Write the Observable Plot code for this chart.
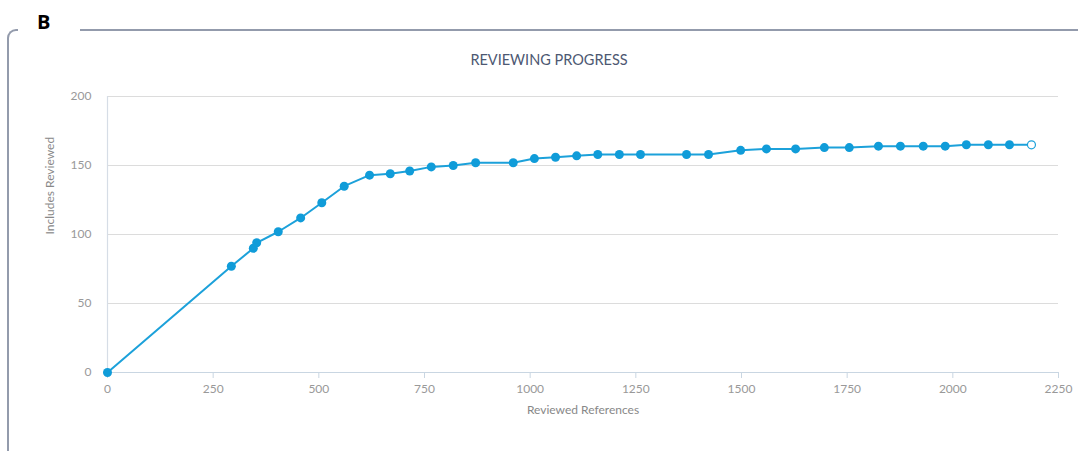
<!DOCTYPE html>
<html><head><meta charset="utf-8">
<script src="https://cdn.jsdelivr.net/npm/d3@7"></script>
<script src="https://cdn.jsdelivr.net/npm/@observablehq/plot@0.6"></script>
<style>
body{margin:0;background:#fff;}
#wrap{position:relative;width:1078px;height:451px;overflow:hidden;font-family:Lato,sans-serif;}
#frame{position:absolute;left:7px;top:29px;width:1100px;height:500px;border-left:2px solid #939bac;border-top:2px solid #939bac;border-top-left-radius:9px;}
#gap{position:absolute;left:18px;top:20px;width:62px;height:20px;background:#fff;}
#panel{position:absolute;left:37px;top:8px;font:bold 20px "Open Sans",sans-serif;color:#000;}
#title{position:absolute;left:0;top:51px;width:1098px;text-align:center;font:14.5px Lato,sans-serif;color:#4d5872;line-height:18px;}
#chart{position:absolute;left:0;top:0;}
</style></head>
<body>
<div id="wrap">
  <div id="frame"></div>
  <div id="gap"></div>
  <div id="panel">B</div>
  <div id="chart"></div>
  <div id="title">REVIEWING PROGRESS</div>
</div>
<script>
const reviewed = [0, 293, 345, 353, 404, 457, 507, 560, 620, 669, 715, 766, 818, 871, 960, 1010, 1060, 1110, 1160, 1211, 1261, 1370, 1422, 1498, 1559, 1628, 1696, 1755, 1824, 1876, 1930, 1982, 2032, 2084, 2134, 2186];
const includes = [0, 77, 90, 94, 102, 112, 123, 135, 143, 144, 146, 149, 150, 152, 152, 155, 156, 157, 158, 158, 158, 158, 158, 161, 162, 162, 163, 163, 164, 164, 164, 164, 165, 165, 165, 165];
const xTicks = [0, 250, 500, 750, 1000, 1250, 1500, 1750, 2000, 2250];
const yTicks = [0, 50, 100, 150, 200];
const xLabel = "Reviewed References";
const yLabel = "Includes Reviewed";

const data = reviewed.map((r, i) => ({r, n: includes[i]}));
const filled = data.slice(0, -1);
const last = data.slice(-1);

const chart = Plot.plot({
  width: 1078, height: 451,
  marginLeft: 107, marginRight: 20, marginTop: 96, marginBottom: 79,
  style: {fontFamily: "Lato, sans-serif", background: "transparent"},
  x: {domain: [0, 2250]},
  y: {domain: [0, 200]},
  marks: [
    Plot.gridY(yTicks.filter(d => d > 0), {stroke: "#dcdcdc", strokeOpacity: 1, strokeWidth: 1.2}),
    Plot.ruleX([0], {stroke: "#d6dde6", strokeWidth: 1.2}),
    Plot.axisY({ticks: yTicks, tickFormat: d3.format("d"), tickSize: 0, tickPadding: 16, fontSize: 12, fill: "#999", label: null}),
    Plot.axisX({ticks: xTicks, tickFormat: d3.format("d"), tickSize: 6, tickPadding: 6, fontSize: 12, fill: "#999", stroke: "#c9d6e2", label: null}),
    Plot.ruleY([0], {stroke: "#c9d6e2", strokeWidth: 1.2}),
    Plot.text([xLabel], {frameAnchor: "bottom", dy: 41, fontSize: 12, fill: "#888"}),
    Plot.text([yLabel], {frameAnchor: "left", dx: -57, rotate: -90, fontSize: 12, fill: "#888"}),
    Plot.line(data, {x: "r", y: "n", stroke: "#1ca1da", strokeWidth: 2}),
    Plot.dot(filled, {x: "r", y: "n", r: 4.5, fill: "#109cd9"}),
    Plot.dot(last, {x: "r", y: "n", r: 4, fill: "#fff", stroke: "#1ca1da", strokeWidth: 1.2})
  ]
});
document.getElementById("chart").appendChild(chart);
</script>
</body></html>
